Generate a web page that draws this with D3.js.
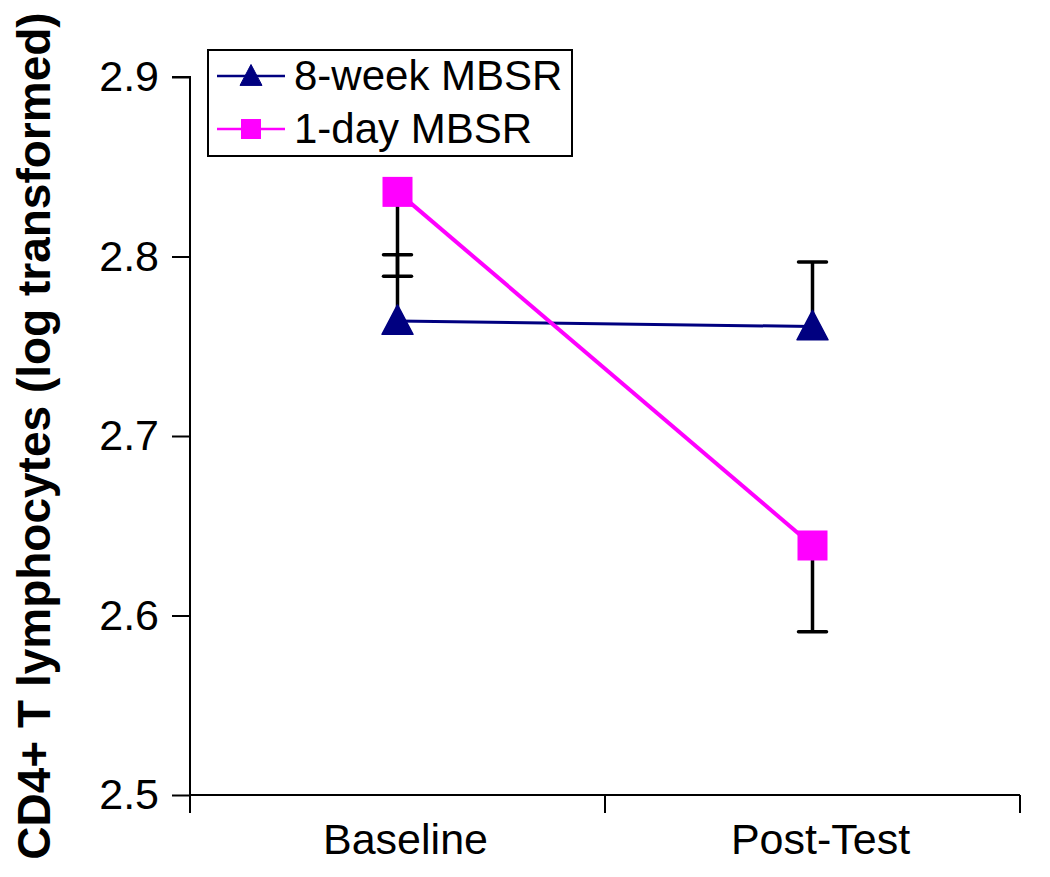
<!DOCTYPE html>
<html><head><meta charset="utf-8">
<script src="https://cdn.jsdelivr.net/npm/d3@7"></script>
<style>body{margin:0;background:#fff}svg{display:block}</style>
</head><body>
<script>
const categories = ["Baseline", "Post-Test"];
const seriesNames = ["8-week MBSR", "1-day MBSR"];
const mbsr8 = [2.764, 2.761];
const mbsr8Err = [0.037, 0.036];   // upper error only
const mbsr1 = [2.836, 2.639];
const mbsr1Err = [0.047, 0.048];   // lower error only
const yTicks = [2.5, 2.6, 2.7, 2.8, 2.9];
const yLabel = "CD4+ T lymphocytes (log transformed)";

const W = 1050, H = 877;
const svg = d3.select("body").append("svg").attr("width", W).attr("height", H);
const font = "Liberation Sans, Arial, Helvetica, sans-serif";

const y = d3.scaleLinear().domain([2.5, 2.9]).range([795, 77]);
const x = d3.scalePoint().domain(categories).range([190, 1020]).padding(0.5);

// Y axis
const yAxis = svg.append("g").attr("transform", "translate(190,0)")
  .call(d3.axisLeft(y).tickValues(yTicks).tickFormat(d3.format(".1f")).tickSize(18).tickPadding(13));
yAxis.select(".domain").attr("stroke", "#000").attr("stroke-width", 2).attr("d", `M-18,${y(2.9)}H0V${y(2.5)}`);
yAxis.selectAll(".tick line").attr("stroke-width", 2);
yAxis.selectAll("text").attr("font-family", font).attr("font-size", 43).attr("fill", "#000");

// X axis
const xa = svg.append("g");
xa.append("line").attr("x1", 190).attr("x2", 1020).attr("y1", y(2.5)).attr("y2", y(2.5))
  .attr("stroke", "#000").attr("stroke-width", 2);
const step = x.step();
const bounds = [x(categories[0]) - step / 2, ...categories.map(c => x(c) + step / 2)];
xa.selectAll(".xt").data(bounds).enter().append("line")
  .attr("x1", d => d).attr("x2", d => d).attr("y1", y(2.5)).attr("y2", y(2.5) + 18)
  .attr("stroke", "#000").attr("stroke-width", 2);
xa.selectAll(".xl").data(categories).enter().append("text")
  .attr("x", d => x(d) + 8).attr("y", 854).attr("text-anchor", "middle")
  .attr("font-family", font).attr("font-size", 43).text(d => d);

// Y label
svg.append("text").attr("transform", `translate(50,${436}) rotate(-90)`)
  .attr("text-anchor", "middle").attr("font-family", font).attr("font-size", 46)
  .attr("font-weight", "bold").text(yLabel);

// Error bars
const capW = 28;
function errBar(xv, y0, y1) {
  svg.append("line").attr("x1", xv).attr("x2", xv).attr("y1", y0).attr("y2", y1)
    .attr("stroke", "#000").attr("stroke-width", 3.5);
  svg.append("line").attr("x1", xv - capW / 2).attr("x2", xv + capW / 2).attr("y1", y1).attr("y2", y1)
    .attr("stroke", "#000").attr("stroke-width", 3.5).attr("stroke-linecap", "round");
}
categories.forEach((c, i) => {
  errBar(x(c), y(mbsr8[i]), y(mbsr8[i] + mbsr8Err[i]));
  errBar(x(c), y(mbsr1[i]), y(mbsr1[i] - mbsr1Err[i]));
});

// Lines
const line = d3.line().x((d, i) => x(categories[i])).y(d => y(d));
svg.append("path").datum(mbsr8).attr("d", line).attr("fill", "none").attr("stroke", "#000080").attr("stroke-width", 3);
svg.append("path").datum(mbsr1).attr("d", line).attr("fill", "none").attr("stroke", "#FF00FF").attr("stroke-width", 4);

// Markers
function tri(cx, cy, w) {
  const h = w * 0.95;
  return `M${cx},${cy - h * 0.55}L${cx + w / 2},${cy + h * 0.45}L${cx - w / 2},${cy + h * 0.45}Z`;
}
svg.selectAll(".m8").data(mbsr8).enter().append("path")
  .attr("d", (d, i) => tri(x(categories[i]), y(d), 31)).attr("fill", "#000080")
  .attr("stroke", "#000080").attr("stroke-width", 1.5).attr("stroke-linejoin", "round");
svg.selectAll(".m1").data(mbsr1).enter().append("rect")
  .attr("x", (d, i) => x(categories[i]) - 15).attr("y", d => y(d) - 15)
  .attr("width", 30).attr("height", 30).attr("fill", "#FF00FF");

// Legend
const lg = svg.append("g");
lg.append("rect").attr("x", 208).attr("y", 50).attr("width", 364).attr("height", 106)
  .attr("fill", "#fff").attr("stroke", "#000").attr("stroke-width", 2);
const rows = [76, 129];
lg.append("line").attr("x1", 217).attr("x2", 285).attr("y1", rows[0]).attr("y2", rows[0]).attr("stroke", "#000080").attr("stroke-width", 2.5);
lg.append("path").attr("d", tri(251, rows[0], 22)).attr("fill", "#000080").attr("stroke", "#000080").attr("stroke-linejoin", "round");
lg.append("line").attr("x1", 217).attr("x2", 285).attr("y1", rows[1]).attr("y2", rows[1]).attr("stroke", "#FF00FF").attr("stroke-width", 2.5);
lg.append("rect").attr("x", 241).attr("y", rows[1] - 10).attr("width", 20).attr("height", 20).attr("fill", "#FF00FF");
lg.selectAll(".lt").data(seriesNames).enter().append("text")
  .attr("x", 294).attr("y", (d, i) => rows[i] + 14).attr("font-family", font).attr("font-size", 42).text(d => d);
</script>
</body></html>
